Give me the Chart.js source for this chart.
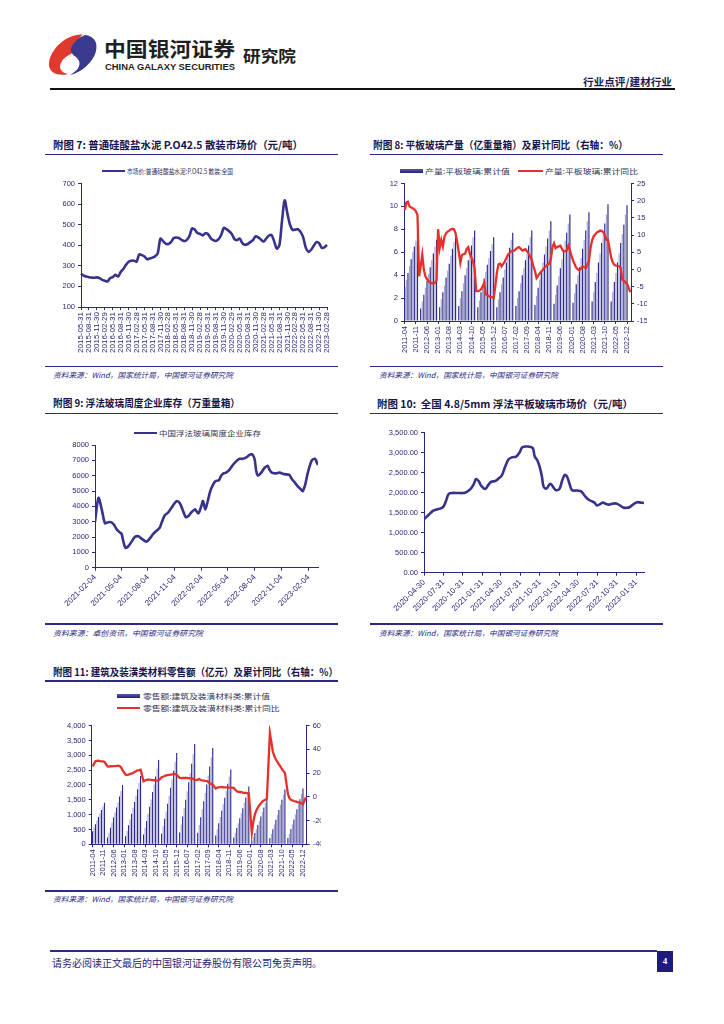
<!DOCTYPE html>
<html lang="zh-CN">
<head>
<meta charset="utf-8">
<title>行业点评/建材行业</title>
<script src="https://cdn.jsdelivr.net/npm/chart.js"></script>
<style>
  html, body { margin: 0; padding: 0; background: #fff; }
  body { width: 724px; height: 1024px; position: relative; overflow: hidden;
         font-family: "Noto Sans CJK SC", sans-serif; }
  .abs { position: absolute; white-space: nowrap; transform-origin: 0 50%; }
  .title { font-weight: 700; font-size: 10.5px; color: #15154a; line-height: 14px; }
  .rule { position: absolute; height: 1.5px; background: #2d2a86; }
  .src { font-size: 7.5px; font-style: italic; color: #2d2a7e; line-height: 10px; }
  .lg { font-size: 7px; color: #33335a; line-height: 10px; }
  .sw { position: absolute; }
  canvas { position: absolute; }
</style>
</head>
<body>

<!-- header -->
<svg class="abs" style="left:48px;top:33px" width="50" height="43" viewBox="0 0 100 86">
  <path d="M70 3 C40 0 5 30 2 60 C0 78 18 88 40 82 C25 80 20 68 28 56 C36 44 52 42 58 30 C62 20 58 10 70 3 Z" fill="#e03a2f"/>
  <path d="M74 4 C92 6 100 18 96 36 C90 60 65 80 44 84 C58 76 66 66 62 56 C58 46 44 44 46 32 C48 20 60 10 74 4 Z" fill="#3a3a8e"/>
</svg>
<div class="abs" style="left:104px;top:37px;font-size:20px;font-weight:700;color:#231f20;line-height:24px" data-w="131">中国银河证券</div>
<div class="abs" style="left:105px;top:62px;font-size:8.5px;font-weight:700;color:#231f20;line-height:10px;font-family:'Liberation Sans',Arial,sans-serif" data-w="130">CHINA GALAXY SECURITIES</div>
<div class="abs" style="left:243px;top:45px;font-size:16px;font-weight:700;color:#231f20;line-height:20px" data-w="53">研究院</div>
<div class="abs" style="left:583px;top:75px;font-size:10.5px;font-weight:700;color:#1b1b50;line-height:13px" data-w="89">行业点评/建材行业</div>
<div class="rule" style="left:50px;top:88px;width:625px;height:2px;background:#111"></div>

<!-- chart 7 -->
<div class="abs title" style="left:52.7px;top:138px" data-w="250">附图 7: 普通硅酸盐水泥 P.O42.5 散装市场价（元/吨）</div>
<div class="rule" style="left:45px;top:153.5px;width:293px"></div>
<div class="sw" style="left:102px;top:169.5px;width:23px;height:2.4px;background:#37338c"></div>
<div class="abs lg" style="left:127.3px;top:165.7px" data-w="106">市场价:普通硅酸盐水泥:P.O42.5 散装:全国</div>
<canvas id="c7" width="290" height="186" style="left:50px;top:176px;width:290px;height:186px"></canvas>
<div class="rule" style="left:45px;top:365.5px;width:293px"></div>
<div class="abs src" style="left:53px;top:370px" data-w="180">资料来源：Wind，国家统计局，中国银河证券研究院</div>

<!-- chart 8 -->
<div class="abs title" style="left:373.3px;top:138px" data-w="255">附图 8: 平板玻璃产量（亿重量箱）及累计同比（右轴：%）</div>
<div class="rule" style="left:370px;top:153.5px;width:293px"></div>
<div class="sw" style="left:400px;top:169px;width:23px;height:4px;background:linear-gradient(#5b58ad,#22207a)"></div>
<div class="abs lg" style="left:425px;top:166px" data-w="85">产量:平板玻璃:累计值</div>
<div class="sw" style="left:518px;top:169.8px;width:25px;height:2.4px;background:#e5302c"></div>
<div class="abs lg" style="left:545px;top:166px" data-w="93">产量:平板玻璃:累计同比</div>
<canvas id="c8" width="310" height="186" style="left:370px;top:176px;width:310px;height:186px"></canvas>
<div class="rule" style="left:370px;top:365.5px;width:293px"></div>
<div class="abs src" style="left:379px;top:370px" data-w="179">资料来源：Wind，国家统计局，中国银河证券研究院</div>

<!-- chart 9 -->
<div class="abs title" style="left:52.7px;top:396.3px" data-w="187">附图 9: 浮法玻璃周度企业库存（万重量箱）</div>
<div class="rule" style="left:45px;top:412.5px;width:293px"></div>
<div class="sw" style="left:134.3px;top:431.5px;width:22.4px;height:2.4px;background:#37338c"></div>
<div class="abs lg" style="left:159.3px;top:427.7px" data-w="102">中国浮法玻璃周度企业库存</div>
<canvas id="c9" width="290" height="185" style="left:50px;top:436px;width:290px;height:185px"></canvas>
<div class="rule" style="left:45px;top:623.3px;width:293px"></div>
<div class="abs src" style="left:53.3px;top:628.3px" data-w="150">资料来源：卓创资讯，中国银河证券研究院</div>

<!-- chart 10 -->
<div class="abs title" style="left:377.3px;top:397.3px" data-w="256">附图 10:&nbsp; 全国 4.8/5mm 浮法平板玻璃市场价（元/吨）</div>
<div class="rule" style="left:370px;top:412.5px;width:293px"></div>
<canvas id="c10" width="310" height="196" style="left:370px;top:425px;width:310px;height:196px"></canvas>
<div class="rule" style="left:370px;top:623.3px;width:293px"></div>
<div class="abs src" style="left:379.3px;top:628.3px" data-w="179">资料来源：Wind，国家统计局，中国银河证券研究院</div>

<!-- chart 11 -->
<div class="abs title" style="left:52.7px;top:665.3px" data-w="285">附图 11: 建筑及装潢类材料零售额（亿元）及累计同比（右轴：%）</div>
<div class="rule" style="left:45px;top:680px;width:293px"></div>
<div class="sw" style="left:117.3px;top:693.5px;width:22.7px;height:4px;background:linear-gradient(#5b58ad,#22207a)"></div>
<div class="abs lg" style="left:142.7px;top:690.7px" data-w="127">零售额:建筑及装潢材料类:累计值</div>
<div class="sw" style="left:117.3px;top:707.1px;width:22.7px;height:2.4px;background:#e5302c"></div>
<div class="abs lg" style="left:142.7px;top:703.3px" data-w="136.6">零售额:建筑及装潢材料类:累计同比</div>
<canvas id="c11" width="290" height="170" style="left:50px;top:716px;width:290px;height:170px"></canvas>
<div class="rule" style="left:45px;top:890px;width:293px"></div>
<div class="abs src" style="left:53.3px;top:894.3px" data-w="180">资料来源：Wind，国家统计局，中国银河证券研究院</div>

<!-- footer -->
<div class="rule" style="left:50px;top:949.5px;width:607px;height:2px;background:#2d2a86"></div>
<div class="abs" style="left:52px;top:956px;font-size:10px;color:#24237a;line-height:14px" data-w="270">请务必阅读正文最后的中国银河证券股份有限公司免责声明。</div>
<div class="sw" style="left:657px;top:951px;width:16px;height:21px;background:#1e1b7c;color:#fff;font:700 9px 'Liberation Serif',serif;text-align:center;line-height:21px">4</div>

<script>
// ---- data ----
function monthLabels(y, m, n, withDay) {
  const out = [];
  for (let i = 0; i < n; i++) {
    const mm = m - 1 + i, yy = y + Math.floor(mm / 12), mo = mm % 12 + 1;
    let s = yy + '-' + String(mo).padStart(2, '0');
    if (withDay) s += '-' + String(new Date(Date.UTC(yy, mo, 0)).getUTCDate()).padStart(2, '0');
    out.push(s);
  }
  return out;
}
function dayOf(start, d) { return Math.round((Date.parse(d) - Date.parse(start)) / 864e5); }

// chart 7: cement price, monthly 2015-05 .. 2023-02
const cementMonths = monthLabels(2015, 5, 94, true);
const cementPrice = [
  262, 252, 248, 245, 243, 242, 244, 240,
  232, 228, 224, 240, 245, 256, 248, 270, 285, 305, 320, 325,
  325, 320, 355, 352, 345, 332, 336, 340, 346, 360, 432, 420,
  408, 406, 415, 434, 438, 435, 426, 420, 426, 445, 482, 476,
  460, 455, 448, 458, 455, 435, 425, 421, 430, 450, 485, 478,
  468, 455, 430, 425, 432, 410, 402, 406, 415, 425, 443, 438,
  428, 418, 432, 446, 450, 420, 384, 400, 520, 618, 556, 500,
  474, 476, 478, 465, 438, 387, 368, 378, 398, 415, 410, 388,
  390, 402
];

// chart 8: flat glass output (cumulative) and cumulative yoy, 2011-04 .. 2023-02
const glassMonths = monthLabels(2011, 4, 143, false);
const glassOutput = [
  3.0, 3.6, 4.2, 4.8, 5.4, 6.0, 6.5, 7.0, 7.5,
  null, 1.1, 1.7, 2.3, 2.9, 3.5, 4.1, 4.7, 5.3, 5.9, 6.5, 7.1,
  null, 1.2, 1.9, 2.5, 3.1, 3.8, 4.4, 5.0, 5.7, 6.3, 6.9, 7.6,
  null, 1.3, 2.0, 2.6, 3.3, 4.0, 4.6, 5.3, 5.9, 6.6, 7.3, 7.9,
  null, 1.2, 1.8, 2.5, 3.1, 3.7, 4.3, 4.9, 5.5, 6.1, 6.7, 7.3,
  null, 1.2, 1.9, 2.5, 3.2, 3.8, 4.5, 5.1, 5.8, 6.4, 7.1, 7.7,
  null, 1.3, 2.0, 2.6, 3.3, 4.0, 4.6, 5.3, 5.9, 6.6, 7.3, 7.9,
  null, 1.4, 2.2, 2.9, 3.6, 4.3, 5.1, 5.8, 6.5, 7.2, 7.9, 8.7,
  null, 1.5, 2.3, 3.1, 3.9, 4.6, 5.4, 6.2, 7.0, 7.7, 8.5, 9.3,
  null, 1.6, 2.4, 3.2, 4.0, 4.7, 5.5, 6.3, 7.1, 7.9, 8.7, 9.5,
  null, 1.7, 2.5, 3.4, 4.2, 5.1, 5.9, 6.8, 7.6, 8.5, 9.3, 10.2,
  null, 1.7, 2.5, 3.4, 4.2, 5.1, 5.9, 6.8, 7.6, 8.4, 9.3, 10.1,
  null, null
];
const glassYoY = [
  17.3, 19.5, 19.7, 18.3, 18.0, 17.8, 17.5, 16.9, 15.8,
  -2.0, 0.9, 4.3, -0.1, -2.0, -2.8, -3.5, -3.8, -4.0, -4.1, -3.9, -3.2,
  11.7, 6.2, 8.6, 6.7, 9.5, 10.5, 11.0, 11.3, 11.7, 11.8, 11.7, 10.5,
  8.0, 5.0, 1.9, 4.2, 4.4, 4.6, 6.0, 6.5, 4.5, 3.5, 2.3, 0.2,
  -6.3, -6.3, -6.2, -5.8, -5.0, -3.9, -7.2, -7.5, -7.8, -8.0, -8.1, -8.3,
  -4.9, -1.0, 1.5, 1.7, 0.9, 1.6, 2.3, 3.3, 4.3, 4.8, 5.3, 5.5,
  5.5, 5.9, 6.3, 6.5, 6.0, 5.5, 5.7, 5.9, 5.3, 4.6, 3.6, 2.8,
  1.0, -0.5, -2.5, -1.8, -1.2, -0.6, -0.1, 0.5, 1.0, 1.4, 1.7, 3.0,
  6.5, 7.6, 6.2, 6.5, 6.7, 6.9, 6.0, 5.2, 5.3, 5.5, 6.9, 5.6,
  4.0, 2.6, 1.5, 0.5, 0.0, -0.3, 0.3, 0.9, 0.7, 0.4, 1.3, 2.5,
  6.2, 8.5, 9.6, 10.2, 10.8, 11.0, 11.3, 11.2, 10.9, 10.0, 8.6, 8.6,
  6.0, 3.5, 2.1, 1.3, 1.1, 1.0, 0.9, 0.5, -3.0, -3.3, -3.7, -4.2,
  -5.3, -6.6
];

// chart 9: float glass weekly inventory (days after 2021-02-04)
const invStart = '2021-02-04';
const invDays = [0, 12, 23, 34, 43, 51, 57, 65, 74, 85, 91, 97, 104, 114, 125, 136, 148, 159, 176, 187,
  199, 210, 221, 227, 238, 250, 261, 272, 280, 290, 299, 310, 318, 329, 341, 346, 354, 363, 369, 377,
  386, 394, 403, 412, 423, 431, 439, 448, 460, 471, 483, 494, 505, 517, 528, 537, 545, 551, 557, 568,
  579, 590, 596, 604, 619, 630, 647, 664, 672, 681, 693, 704, 710, 718, 726, 735, 741, 752, 757, 762];
const invValues = [3000, 4550, 3800, 2900, 2950, 2980, 2950, 2800, 2500, 2300, 2200, 1700, 1300, 1400, 1700, 2000, 2050, 1900, 1700, 1900,
  2200, 2400, 2600, 2900, 3400, 3600, 3900, 4200, 4350, 4200, 3800, 3300, 3350, 3600, 3800, 3700, 3550, 4000, 4350, 3800,
  4400, 5000, 5400, 5650, 5700, 6000, 6150, 6200, 6400, 6700, 6950, 7100, 7100, 7200, 7350, 7400, 7100, 6300, 6000, 6200,
  6500, 6650, 6400, 6200, 6150, 6200, 6100, 6050, 5800, 5600, 5300, 5100, 5000, 5400, 6100, 6700, 7000, 7100, 6900, 6700];
const invTickLabels = ['2021-02-04', '2021-05-04', '2021-08-04', '2021-11-04', '2022-02-04',
  '2022-05-04', '2022-08-04', '2022-11-04', '2023-02-04'];

// chart 10: 4.8/5mm float glass price (days after 2020-04-30)
const priceStart = '2020-04-30';
const priceDays = [0, 13, 29, 44, 60, 76, 92, 105, 116, 132, 155, 187, 203, 219, 235, 247, 260, 271, 290, 306,
  319, 338, 353, 369, 385, 401, 417, 437, 453, 466, 488, 507, 517, 525, 536, 548, 559, 567, 580, 599,
  615, 626, 643, 655, 667, 678, 691, 702, 726, 745, 765, 781, 797, 808, 821, 837, 848, 861, 876, 892,
  911, 929, 944, 960, 976, 995, 1011, 1027, 1043];
const priceValues = [1340, 1400, 1480, 1550, 1580, 1600, 1650, 1800, 1960, 1990, 1990, 1990, 2020, 2080, 2200, 2340, 2280, 2170, 2090, 2200,
  2270, 2290, 2350, 2430, 2650, 2830, 2880, 2900, 3000, 3130, 3150, 3140, 3100, 2900, 2820, 2650, 2400, 2150, 2100, 2220,
  2120, 2060, 2100, 2300, 2440, 2400, 2200, 2060, 2050, 2030, 1900, 1820, 1780, 1750, 1680, 1720, 1750, 1720, 1700, 1720,
  1730, 1680, 1630, 1620, 1640, 1720, 1760, 1750, 1740];
const priceTickLabels = ['2020-04-30', '2020-07-31', '2020-10-31', '2021-01-31', '2021-04-30', '2021-07-31',
  '2021-10-31', '2022-01-31', '2022-04-30', '2022-07-31', '2022-10-31', '2023-01-31'];

// chart 11: building & decoration materials retail sales (cumulative) and yoy, 2011-04 .. 2023-02
const buildMonths = monthLabels(2011, 4, 143, false);
const buildSales = [
  440, 560, 680, 800, 920, 1040, 1160, 1280, 1400,
  null, 230, 390, 560, 730, 900, 1070, 1240, 1420, 1610, 1800, 2000,
  null, 270, 450, 640, 840, 1030, 1230, 1430, 1640, 1860, 2080, 2300,
  null, 330, 560, 790, 1030, 1270, 1510, 1760, 2020, 2290, 2560, 2840,
  null, 360, 610, 860, 1110, 1370, 1640, 1910, 2190, 2480, 2780, 3080,
  null, 400, 670, 940, 1220, 1500, 1790, 2090, 2400, 2720, 3040, 3380,
  null, 390, 650, 910, 1180, 1450, 1730, 2020, 2320, 2620, 2930, 3250,
  null, 300, 500, 710, 920, 1130, 1350, 1570, 1800, 2040, 2280, 2520,
  null, 230, 390, 550, 710, 880, 1050, 1220, 1400, 1580, 1760, 1950,
  null, 130, 250, 380, 510, 650, 790, 940, 1090, 1240, 1390, 1550,
  null, 200, 350, 510, 670, 830, 1000, 1160, 1330, 1500, 1670, 1850,
  null, 210, 360, 520, 680, 840, 1010, 1180, 1350, 1520, 1700, 1880,
  null, null
];
const buildYoY = [
  25.7, 27.5, 30.0, 30.3, 30.5, 30.2, 30.0, 30.0, 29.5,
  null, 25.7, 25.5, 25.8, 25.7, 25.9, 26.0, 26.1, 26.3, 26.0, 25.0, 22.6,
  null, 18.7, 18.5, 18.7, 19.3, 19.5, 20.2, 21.0, 21.6, 22.4, 22.6, 22.9,
  null, 13.1, 13.8, 14.3, 14.5, 14.5, 14.4, 14.2, 14.0, 13.8, 13.7, 13.9,
  null, 16.5, 17.0, 17.6, 18.1, 18.3, 18.5, 18.7, 18.9, 19.0, 19.3, 18.7,
  null, 15.9, 15.8, 15.9, 16.0, 15.9, 15.9, 15.8, 15.6, 15.4, 15.3, 14.0,
  null, 14.5, 15.0, 14.2, 13.8, 13.6, 13.4, 13.3, 12.7, 11.5, 10.8, 10.3,
  null, 7.0, 7.8, 8.0, 8.2, 8.3, 8.1, 8.0, 8.0, 7.9, 7.8, 7.7,
  null, 7.5, 6.0, 4.7, 4.3, 4.1, 3.9, 3.6, 3.4, 3.3, 3.2, 2.8,
  null, -30.4, -21.0, -15.0, -11.5, -9.0, -7.0, -5.5, -4.0, -3.0, -2.5, -1.5,
  null, 53.8, 46.0, 38.0, 34.2, 31.5, 29.5, 27.5, 25.7, 23.5, 21.8, 20.4,
  null, 2.4, -1.0, -2.4, -3.0, -3.5, -3.8, -4.2, -4.6, -5.0, -5.2, -6.2,
  null, -0.4
];

// ---- style ----
Chart.defaults.font.family = '"Liberation Sans", Arial, sans-serif';
Chart.defaults.font.size = 7.5;
Chart.defaults.color = '#2a2877';
const NAVY = '#2b2882';
const LINE = '#37338c';
const RED = '#e5302c';
const DARK_BAR = '#2e2b85';
const LIGHT_BAR = '#a7a6d6';

function yAxis(pos, min, max, step, width, fmt) {
  return {
    position: pos, min: min, max: max,
    ticks: { stepSize: step, padding: 3, callback: fmt || (v => v) },
    grid: { drawOnChartArea: false, tickLength: 3, color: NAVY },
    border: { color: NAVY },
    afterFit: s => { s.width = width; }
  };
}
function catAxis(every, height) {
  return {
    type: 'category', offset: true,
    ticks: { autoSkip: false, minRotation: 90, maxRotation: 90, padding: 2, font: { size: 7.5 } },
    grid: { drawOnChartArea: false, tickLength: 3, color: NAVY, offset: false },
    border: { color: NAVY },
    afterBuildTicks: a => { a.ticks = a.ticks.filter(t => t.value % every === 0); },
    afterFit: s => { s.height = height; }
  };
}
function dateAxis(start, labels, max, height) {
  const days = labels.map(d => dayOf(start, d));
  return {
    type: 'linear', min: 0, max: max,
    afterBuildTicks: a => { a.ticks = days.map(v => ({ value: v })); },
    ticks: { autoSkip: false, minRotation: 45, maxRotation: 45, padding: 2, font: { size: 8 },
             callback: (v, i) => labels[i] },
    grid: { drawOnChartArea: false, tickLength: 3, color: NAVY },
    border: { color: NAVY },
    afterFit: s => { s.height = height; }
  };
}
const common = {
  responsive: false, animation: false, events: [],
  plugins: { legend: { display: false }, tooltip: { enabled: false } }
};

// Chart 7
new Chart(document.getElementById('c7'), {
  type: 'line',
  data: {
    labels: cementMonths,
    datasets: [{ data: cementPrice, borderColor: LINE, borderWidth: 2.6, pointRadius: 0, tension: 0.3 }]
  },
  options: Object.assign({}, common, {
    layout: { padding: { top: 4.7, right: 13, left: 0, bottom: 0 } },
    scales: {
      x: Object.assign(catAxis(3, 55), { offset: false, ticks: { autoSkip: false, minRotation: 90, maxRotation: 90, padding: 2, font: { size: 8 } } }),
      y: yAxis('left', 100, 700, 100, 31)
    }
  })
});

// Chart 8
new Chart(document.getElementById('c8'), {
  type: 'bar',
  data: {
    labels: glassMonths,
    datasets: [
      { type: 'line', data: glassYoY, yAxisID: 'yR', borderColor: RED, borderWidth: 2.3, pointRadius: 0, order: 1 },
      { type: 'bar', data: glassOutput, yAxisID: 'yL', order: 2,
        backgroundColor: glassOutput.map((v, i) => i % 2 ? LIGHT_BAR : DARK_BAR),
        categoryPercentage: 1, barPercentage: 0.75 }
    ]
  },
  options: Object.assign({}, common, {
    layout: { padding: { top: 6.7, right: 33, left: 0, bottom: 0 } },
    scales: {
      x: catAxis(7, 41),
      yL: yAxis('left', 0, 12, 2, 34),
      yR: yAxis('right', -15, 25, 5, 16)
    }
  })
});

// Chart 9
new Chart(document.getElementById('c9'), {
  type: 'line',
  data: {
    datasets: [{ data: invDays.map((d, i) => ({ x: d, y: invValues[i] })),
      borderColor: LINE, borderWidth: 2.6, pointRadius: 0, tension: 0.3 }]
  },
  options: Object.assign({}, common, {
    layout: { padding: { top: 9, right: 22, left: 0, bottom: 0 } },
    scales: {
      x: dateAxis(invStart, invTickLabels, invDays[invDays.length - 1], 53.3),
      y: yAxis('left', 0, 8000, 1000, 45, v => String(v))
    }
  })
});

// Chart 10
new Chart(document.getElementById('c10'), {
  type: 'line',
  data: {
    datasets: [{ data: priceDays.map((d, i) => ({ x: d, y: priceValues[i] })),
      borderColor: LINE, borderWidth: 2.6, pointRadius: 0, tension: 0.35 }]
  },
  options: Object.assign({}, common, {
    layout: { padding: { top: 7.3, right: 36, left: 0, bottom: 0 } },
    scales: {
      x: dateAxis(priceStart, priceTickLabels, priceDays[priceDays.length - 1], 48.3),
      y: yAxis('left', 0, 3500, 500, 54,
        v => v.toLocaleString('en-US', { minimumFractionDigits: 2, maximumFractionDigits: 2 }))
    }
  })
});

// Chart 11
new Chart(document.getElementById('c11'), {
  type: 'bar',
  data: {
    labels: buildMonths,
    datasets: [
      { type: 'line', data: buildYoY, yAxisID: 'yR', borderColor: RED, borderWidth: 2.3, pointRadius: 0, spanGaps: true, order: 1 },
      { type: 'bar', data: buildSales, yAxisID: 'yL', order: 2,
        backgroundColor: buildSales.map((v, i) => i % 2 ? LIGHT_BAR : DARK_BAR),
        categoryPercentage: 1, barPercentage: 0.75 }
    ]
  },
  options: Object.assign({}, common, {
    layout: { padding: { top: 9.7, right: 19.3, left: 0, bottom: 0 } },
    scales: {
      x: catAxis(7, 41.7),
      yL: yAxis('left', 0, 4000, 500, 41.7, v => v.toLocaleString('en-US')),
      yR: yAxis('right', -40, 60, 10, 14)
    }
  })
});

// squeeze text blocks to the widths measured on the page
function fitTexts() {
  document.querySelectorAll('[data-w]').forEach(el => {
    el.style.transform = 'none';
    const w = el.getBoundingClientRect().width;
    if (w > 0) el.style.transform = 'scaleX(' + (parseFloat(el.dataset.w) / w) + ')';
  });
}
fitTexts();
if (document.fonts && document.fonts.ready) document.fonts.ready.then(fitTexts);
</script>
</body>
</html>
